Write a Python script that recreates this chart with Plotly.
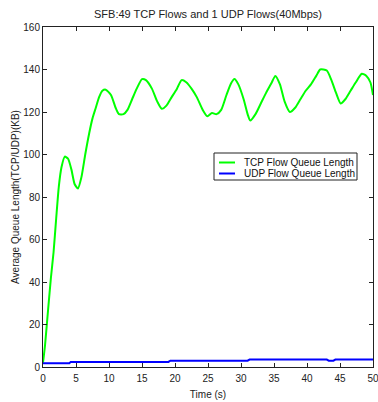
import plotly.graph_objects as go

tcp_t = [0, 0.3, 0.8, 1.2, 1.6, 2.0, 2.4, 2.8, 3.3, 3.8, 4.3, 4.8, 5.3, 5.8, 6.4, 7.0, 7.5, 8.0, 8.5, 9.0, 9.5,
         10.3, 11.0, 11.5, 12.2, 12.8, 13.5, 14.2, 15.0, 15.6, 16.5, 17.3, 18.0, 18.7, 19.5, 20.3, 21.0, 21.7,
         22.5, 23.3, 24.2, 24.9, 25.6, 26.3, 27.0, 27.8, 28.5, 29.0, 29.6, 30.4, 31.0, 31.4, 32.2, 33.0, 33.8,
         34.6, 35.2, 35.9, 36.6, 37.4, 38.2, 39.0, 39.8, 40.6, 41.4, 42.0, 43.0, 43.7, 44.4, 45.1, 45.8, 46.6,
         47.4, 48.3, 49.0, 49.6, 50]
tcp_q = [2, 10, 28, 42, 54, 70, 85, 94, 99, 98, 93, 86, 84, 89, 100, 110, 117, 122, 127, 130, 130.5,
         128, 122, 119, 119, 121, 126, 131, 135.5, 135, 131, 125, 121.5, 123, 127, 131, 135, 134,
         131, 127, 121, 118, 119.5, 119, 121, 128, 133.5, 135.5, 133, 126, 119, 116, 119, 124, 129,
         133.5, 137, 133, 125, 120, 122, 126, 130, 133, 137, 140, 139.5, 135, 129, 124, 126, 130,
         134, 138, 137, 134, 128]

udp_t = [0, 4, 4.2, 19, 19.3, 31, 31.3, 43, 43.3, 44, 44.3, 50]
udp_q = [1.8, 1.8, 2.4, 2.4, 3.0, 3.0, 3.5, 3.5, 3.0, 3.0, 3.5, 3.5]

x_ticks = [0, 5, 10, 15, 20, 25, 30, 35, 40, 45, 50]
y_ticks = [0, 20, 40, 60, 80, 100, 120, 140, 160]

series_names = ["TCP Flow Queue Length", "UDP Flow Queue Length"]
series_colors = ["#00FF00", "#0000FF"]

L, R, T, B, W, H = 43, 5, 27, 35, 378, 402
PW, PH = W - L - R, H - T - B


def px(x):
    return (x - L) / PW


def py(y):
    return 1 - (y - T) / PH


fig = go.Figure()
fig.add_trace(go.Scatter(x=tcp_t, y=tcp_q, mode="lines", name=series_names[0], showlegend=False,
                         line=dict(color=series_colors[0], width=2, shape="spline", smoothing=0.6)))
fig.add_trace(go.Scatter(x=udp_t, y=udp_q, mode="lines", name=series_names[1], showlegend=False,
                         line=dict(color=series_colors[1], width=2)))

font = "Liberation Sans, Arial, sans-serif"

# manual legend box
shapes = [dict(type="rect", xref="paper", yref="paper", x0=px(214), x1=px(357), y0=py(180), y1=py(153),
               line=dict(color="#222", width=1), fillcolor="white", layer="above")]
annotations = []
for i, (nm, col) in enumerate(zip(series_names, series_colors)):
    yy = 162.5 + i * 11
    shapes.append(dict(type="line", xref="paper", yref="paper", x0=px(219), x1=px(235), y0=py(yy), y1=py(yy),
                       line=dict(color=col, width=2), layer="above"))
    annotations.append(dict(text=nm, xref="paper", yref="paper", x=px(242), y=py(yy), xanchor="left",
                            yanchor="middle", showarrow=False, font=dict(size=10, family=font, color="#111")))

fig.update_layout(
    width=W, height=H,
    margin=dict(l=L, r=R, t=T, b=B, autoexpand=False),
    paper_bgcolor="white", plot_bgcolor="white",
    font=dict(family=font, size=10, color="#222"),
    title=dict(text="SFB:49 TCP Flows and 1 UDP Flows(40Mbps)", x=(L + PW / 2) / W, xanchor="center",
               y=1 - 14 / H, yanchor="middle", font=dict(size=11, family=font, color="#222")),
    showlegend=False,
    shapes=shapes, annotations=annotations,
    xaxis=dict(range=[0, 50], tickvals=x_ticks, ticklabeloverflow="allow", automargin=False,
               ticks="inside", ticklen=4, tickcolor="#222", showline=True, linecolor="#222",
               linewidth=1, mirror="ticks", showgrid=False, zeroline=False, ticklabelstandoff=2,
               title=dict(text="Time (s)", standoff=7, font=dict(size=10))),
    yaxis=dict(range=[0, 160], tickvals=y_ticks, automargin=False,
               ticks="inside", ticklen=4, tickcolor="#222", showline=True, linecolor="#222",
               linewidth=1, mirror="ticks", showgrid=False, zeroline=False,
               title=dict(text="Average Queue Length(TCP/UDP)(KB)", standoff=1, font=dict(size=10))),
)
fig.write_html("out.html")
